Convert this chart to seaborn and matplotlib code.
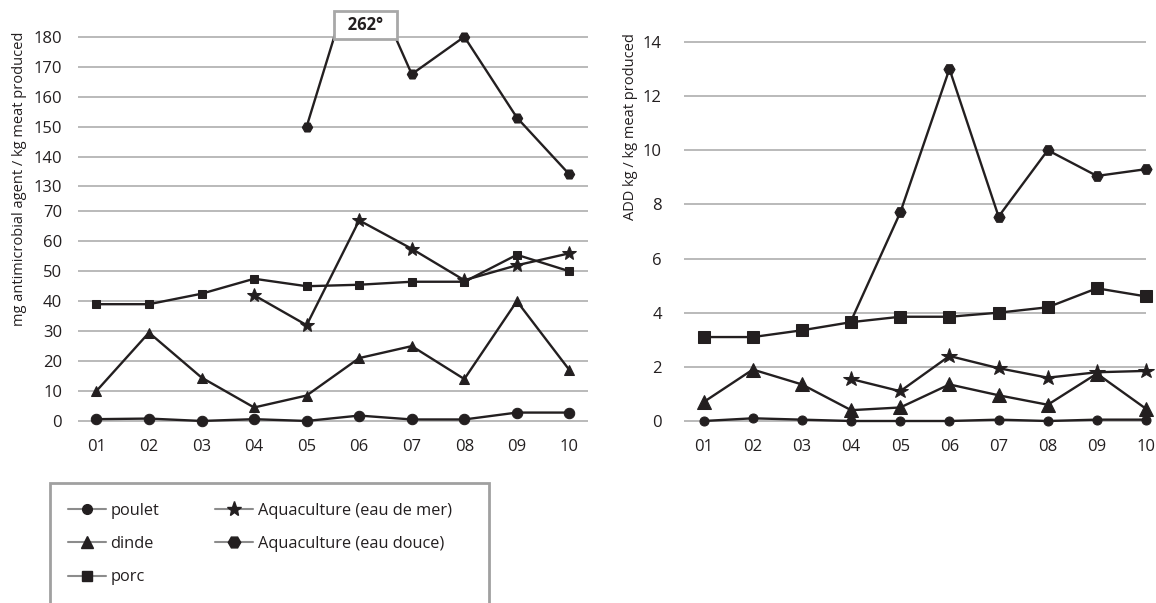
import numpy as np
import pandas as pd
import seaborn as sns
import matplotlib.pyplot as plt
from matplotlib.lines import Line2D
from matplotlib.patches import Rectangle

annees = ['01', '02', '03', '04', '05', '06', '07', '08', '09', '10']

# mg antimicrobial agent / kg meat produced
mg_poulet = [0.6, 0.8, 0, 0.6, 0, 1.8, 0.5, 0.5, 2.8, 2.8]
mg_dinde = [10, 29.5, 14.5, 4.5, 8.5, 21, 25, 14, 40, 17]
mg_porc = [39, 39, 42.5, 47.5, 45, 45.5, 46.5, 46.5, 55.5, 50]
mg_mer = [np.nan, np.nan, np.nan, 42, 32, 67, 57.5, 47, 52, 56]
mg_douce = [np.nan, np.nan, np.nan, np.nan, 150, 262, 167.5, 180, 153, 134]

# ADD kg / kg meat produced
add_poulet = [0, 0.1, 0.05, 0, 0, 0, 0.05, 0, 0.05, 0.05]
add_dinde = [0.7, 1.9, 1.35, 0.4, 0.5, 1.35, 0.95, 0.6, 1.75, 0.45]
add_porc = [3.1, 3.1, 3.35, 3.65, 3.85, 3.85, 4.0, 4.2, 4.9, 4.6]
add_mer = [np.nan, np.nan, np.nan, 1.55, 1.1, 2.4, 1.95, 1.6, 1.8, 1.85]
add_douce = [np.nan, np.nan, np.nan, 3.7, 7.7, 13, 7.55, 10, 9.05, 9.3]

series = ['poulet', 'dinde', 'porc', 'Aquaculture (eau de mer)', 'Aquaculture (eau douce)']
markers = ['o', '^', 's', '*', 'H']
size_left = [7.5, 7, 6, 10, 7.5]
size_right = [6.5, 9.5, 8.5, 11.5, 8]

mg_ticks = [0, 10, 20, 30, 40, 50, 60, 70, 130, 140, 150, 160, 170, 180]
add_ticks = [0, 2, 4, 6, 8, 10, 12, 14]

ink = '#231f20'
grid = '#b4b4b4'

sns.set_style('white')
plt.rcParams['font.family'] = ['Open Sans', 'DejaVu Sans']


def make_df(values):
    rows = []
    for name, vals in zip(series, values):
        for a, v in zip(annees, vals):
            rows.append({'annee': a, 'valeur': v, 'serie': name})
    return pd.DataFrame(rows)


df_mg = make_df([mg_poulet, mg_dinde, mg_porc, mg_mer, mg_douce])
df_add = make_df([add_poulet, add_dinde, add_porc, add_mer, add_douce])

# broken axis: 0-70, then 130-180, values above 180 squeezed
G = 0.833   # gap between 70 and 130
S = 0.033   # squeeze above 180


def fwd(y):
    y = np.asarray(y, dtype=float)
    return np.select([y <= 70, y < 130, y <= 180],
                     [y / 10, 7 + (y - 70) / 60 * G, (y - 130) / 10 + 7 + G],
                     12 + G + (y - 180) * S)


def inv(t):
    t = np.asarray(t, dtype=float)
    return np.select([t <= 7, t < 7 + G, t <= 12 + G],
                     [t * 10, 70 + (t - 7) / G * 60, (t - 7 - G) * 10 + 130],
                     180 + (t - 12 - G) / S)


fig = plt.figure(figsize=(11.56, 6.03), dpi=100)
ax1 = fig.add_axes([0.0675, 0.287, 0.441, 0.675])
ax2 = fig.add_axes([0.5917, 0.287, 0.3997, 0.666])

for ax, df, sizes, clip in [(ax1, df_mg, size_left, True), (ax2, df_add, size_right, False)]:
    for name, m, ms in zip(series, markers, sizes):
        sub = df[df['serie'] == name].dropna()
        sns.lineplot(data=sub, x='annee', y='valeur', ax=ax, color=ink, lw=1.7,
                     marker=m, markersize=ms, markeredgecolor=ink, markerfacecolor=ink,
                     zorder=3, clip_on=clip, legend=False)

ax1.set_yscale('function', functions=(fwd, inv))
ax1.set_ylim(-3, 194)
ax1.set_yticks(mg_ticks)
ax1.set_yticklabels([str(t) for t in mg_ticks])
ax1.set_xlim(-0.35, 9.35)
ax1.tick_params(axis='y', pad=11.5)

ax2.set_ylim(-0.33, 14.5)
ax2.set_yticks(add_ticks)
ax2.set_xlim(-0.4, 9.0)
ax2.tick_params(axis='y', pad=16)

for ax in (ax1, ax2):
    ax.set_xlabel('')
    ax.set_ylabel('')
    ax.set_xticks(range(len(annees)))
    ax.set_xticklabels(annees)
    sns.despine(ax=ax, left=True, bottom=True)
    ax.grid(axis='y', color=grid, lw=1.3)
    ax.grid(axis='x', visible=False)
    ax.set_axisbelow(True)
    ax.tick_params(axis='both', length=0, labelsize=12, labelcolor=ink)
    ax.tick_params(axis='x', pad=6.5)

# value above the scale
ax1.text(5.12, 0.994, '  262°  ', transform=ax1.get_xaxis_transform(), ha='center', va='center',
         fontsize=12, fontweight='bold', color=ink, zorder=5, clip_on=False,
         bbox=dict(boxstyle='square,pad=0.3', fc='white', ec='#a8a8a8', lw=2))

fig.text(20 / 1156, 1 - 32 / 603, 'mg antimicrobial agent / kg meat produced', rotation=90,
         ha='center', va='top', fontsize=10.5, color=ink)
fig.text(630 / 1156, 1 - 33 / 603, 'ADD kg / kg meat produced', rotation=90,
         ha='center', va='top', fontsize=10.5, color=ink)

handles = [Line2D([], [], color='#8c8c8c', lw=1.5, marker=m, markersize=s,
                  markerfacecolor=ink, markeredgecolor=ink)
           for m, s in zip(markers, [7, 8, 7.5, 11, 9])]
leg = fig.legend(handles, series, ncol=2, loc='upper left',
                 bbox_to_anchor=(68 / 1156, 1 - 503 / 603), frameon=False, fontsize=11.8,
                 handlelength=2.3, handletextpad=0.3, columnspacing=3.4, labelspacing=1.05,
                 borderpad=0, borderaxespad=0)
for t in leg.get_texts():
    t.set_color(ink)

# legend frame, runs past the bottom edge as in the source
fig.patches.append(Rectangle((50 / 1156, -0.05), 439 / 1156, 0.05 + 1 - 483 / 603,
                             transform=fig.transFigure, fill=False, ec='#a0a0a0', lw=2))

fig.savefig('out.png', dpi=100)
